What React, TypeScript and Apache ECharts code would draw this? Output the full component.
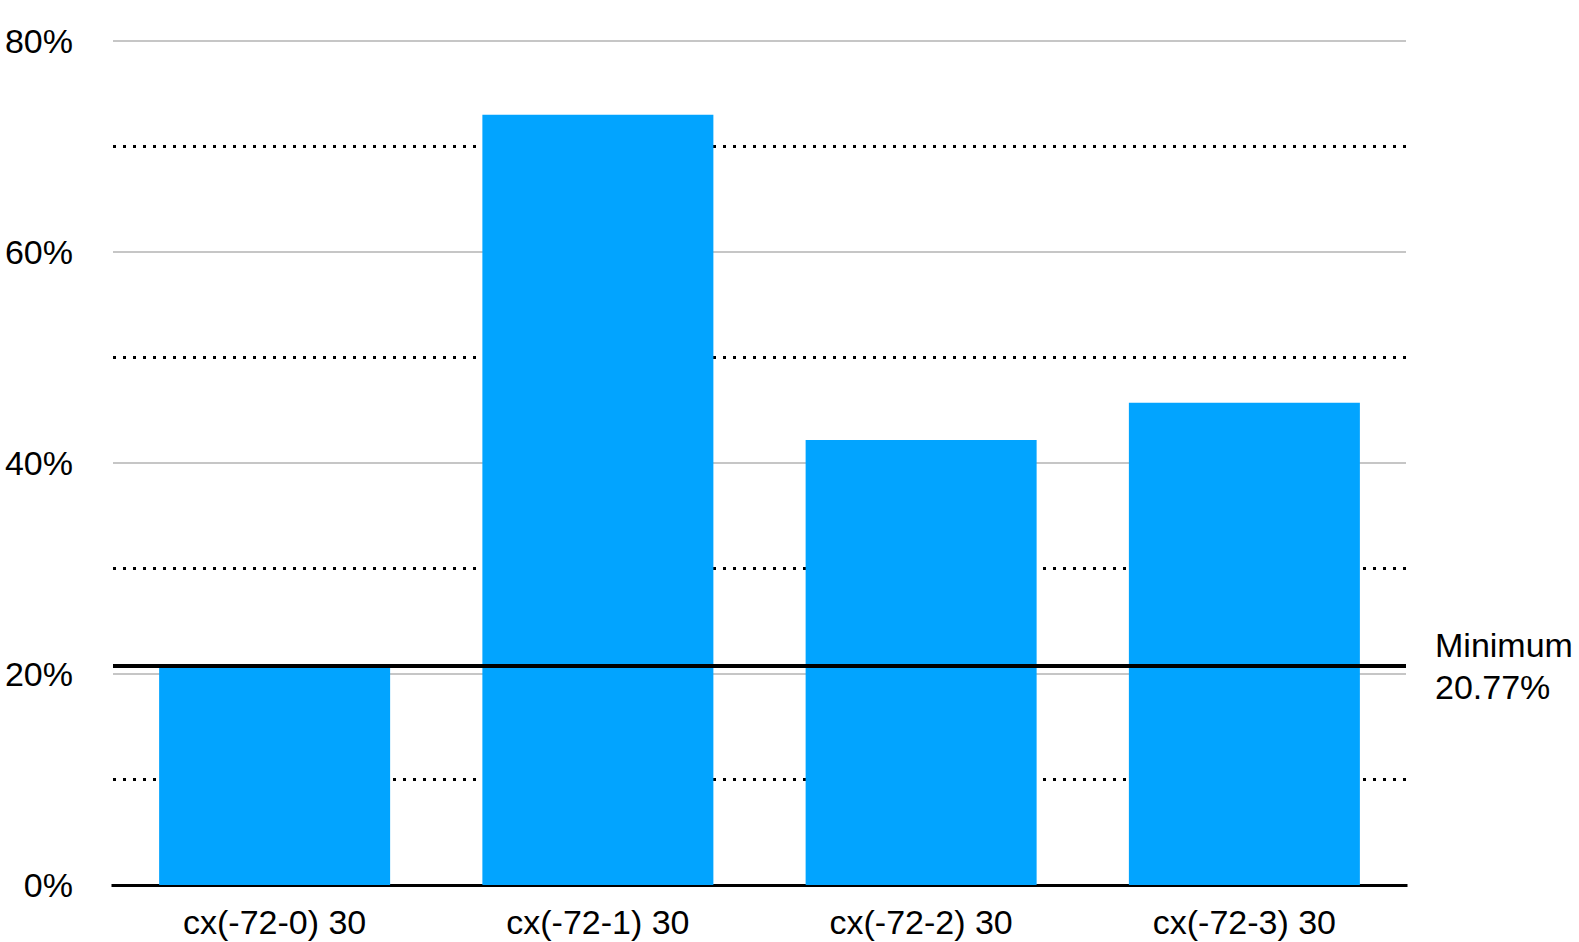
import React, { useEffect, useRef } from "react";
import * as echarts from "echarts";

const categories = ["cx(-72-0) 30", "cx(-72-1) 30", "cx(-72-2) 30", "cx(-72-3) 30"];
const values = [20.77, 73.0, 42.17, 45.7];
const yTicks = [0, 20, 40, 60, 80];
const minimumLabel = "Minimum";

const FONT = "'Liberation Sans', Arial, Helvetica, sans-serif";

export default function App() {
  const ref = useRef<HTMLDivElement>(null);
  useEffect(() => {
    document.body.style.margin = "0";
    const chart = echarts.init(ref.current!, null, { renderer: "svg" });
    const minVal = Math.min(...values);
    chart.setOption({
      animation: false,
      backgroundColor: "#ffffff",
      textStyle: { fontFamily: FONT },
      grid: { left: 113, right: 173, top: 41, bottom: 57, containLabel: false },
      xAxis: {
        type: "category",
        data: categories,
        axisLine: { show: true, lineStyle: { color: "#000000", width: 3, cap: "square" } },
        axisTick: { show: false },
        axisLabel: { color: "#000000", fontSize: 34, fontFamily: FONT, margin: 20 },
        splitLine: { show: false },
      },
      yAxis: {
        type: "value",
        min: yTicks[0],
        max: yTicks[yTicks.length - 1],
        interval: yTicks[1] - yTicks[0],
        axisLine: { show: false },
        axisTick: { show: false },
        axisLabel: {
          color: "#000000",
          fontSize: 34,
          fontFamily: FONT,
          margin: 40,
          padding: [4, 0, 0, 0],
          formatter: (v: number) => `${v}%`,
        },
        splitLine: { show: true, lineStyle: { color: "#c6c6c6", width: 2 } },
        minorTick: { show: false, splitNumber: 2 },
        minorSplitLine: { show: true, lineStyle: { color: "#000000", width: 3, type: [3, 7] } },
      },
      series: [
        {
          type: "bar",
          data: values,
          barWidth: 231,
          itemStyle: { color: "#02a4ff" },
          markLine: {
            silent: true,
            symbol: "none",
            lineStyle: { color: "#000000", width: 4, type: "solid" },
            label: {
              show: true,
              position: "end",
              distance: 29,
              color: "#000000",
              fontSize: 34,
              fontFamily: FONT,
              lineHeight: 42,
              align: "left",
              verticalAlign: "middle",
              formatter: () => `${minimumLabel}\n${minVal.toFixed(2)}%`,
            },
            data: [{ yAxis: minVal }],
          },
        },
      ],
    });
    return () => chart.dispose();
  }, []);
  return (
    <div
      ref={ref}
      style={{ position: "absolute", left: 0, top: 0, width: 1579, height: 942 }}
    />
  );
}
